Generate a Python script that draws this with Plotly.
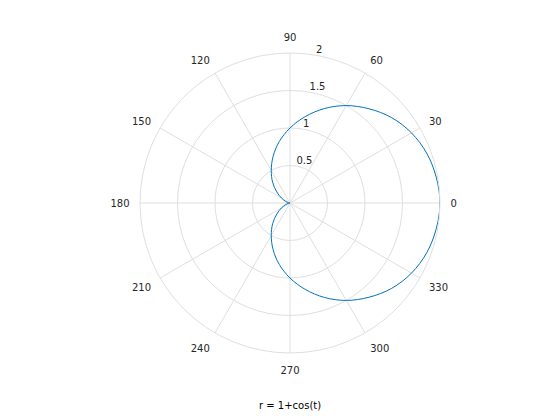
import plotly.graph_objects as go

theta_deg = [0, 10, 20, 30, 40, 50, 60, 70, 80, 90, 100, 110, 120, 130, 140, 150, 160, 170, 180,
             190, 200, 210, 220, 230, 240, 250, 260, 270, 280, 290, 300, 310, 320, 330, 340, 350, 360]
r_vals = [2.00, 1.98, 1.94, 1.87, 1.77, 1.64, 1.50, 1.34, 1.17, 1.00, 0.83, 0.66, 0.50, 0.36, 0.23, 0.13, 0.06, 0.02, 0.00,
          0.02, 0.06, 0.13, 0.23, 0.36, 0.50, 0.66, 0.83, 1.00, 1.17, 1.34, 1.50, 1.64, 1.77, 1.87, 1.94, 1.98, 2.00]
radial_ticks = [0.5, 1, 1.5, 2]
radial_labels = ["0.5", "1", "1.5", "2"]
radial_label_angle = 80
angle_ticks = [0, 30, 60, 90, 120, 150, 180, 210, 240, 270, 300, 330]
angle_labels = ["0", "30", "60", "90", "120", "150", "180", "210", "240", "270", "300", "330"]
title_text = "r = 1+cos(t)"

fig = go.Figure()
fig.add_trace(go.Scatterpolar(
    r=r_vals, theta=theta_deg, mode="lines",
    line=dict(color="#0072BD", width=1, shape="spline"),
    showlegend=False, hoverinfo="skip"))
fig.add_trace(go.Scatterpolar(
    r=radial_ticks, theta=[radial_label_angle] * len(radial_ticks), mode="text",
    text=radial_labels, textposition="top right",
    textfont=dict(family="DejaVu Sans", size=10, color="#262626"),
    showlegend=False, hoverinfo="skip", cliponaxis=False))

W, H = 560, 420
cx, cy, R = 282, 195, 150
fig.update_layout(
    width=W, height=H,
    margin=dict(l=0, r=0, t=0, b=0),
    paper_bgcolor="white",
    font=dict(family="DejaVu Sans", size=10, color="#262626"),
    polar=dict(
        domain=dict(x=[(cx - R) / W, (cx + R) / W], y=[(H - cy - R) / H, (H - cy + R) / H]),
        bgcolor="white",
        radialaxis=dict(range=[0, 2], tickvals=radial_ticks, showticklabels=False,
                        angle=radial_label_angle, showline=False, ticks="",
                        gridcolor="#DFDFDF", gridwidth=1),
        angularaxis=dict(direction="counterclockwise", rotation=0,
                         tickvals=angle_ticks, ticktext=angle_labels,
                         ticks="outside", ticklen=8, tickcolor="rgba(0,0,0,0)",
                         showline=True, linecolor="#DFDFDF", linewidth=1,
                         gridcolor="#DFDFDF", gridwidth=1,
                         tickfont=dict(size=10, color="#262626")),
    ),
    annotations=[dict(text=title_text, x=cx / W, y=1 - 397 / H, xref="paper", yref="paper",
                      showarrow=False, xanchor="center", yanchor="middle",
                      font=dict(size=10, color="#000000"))],
)

fig.write_html("out.html")
